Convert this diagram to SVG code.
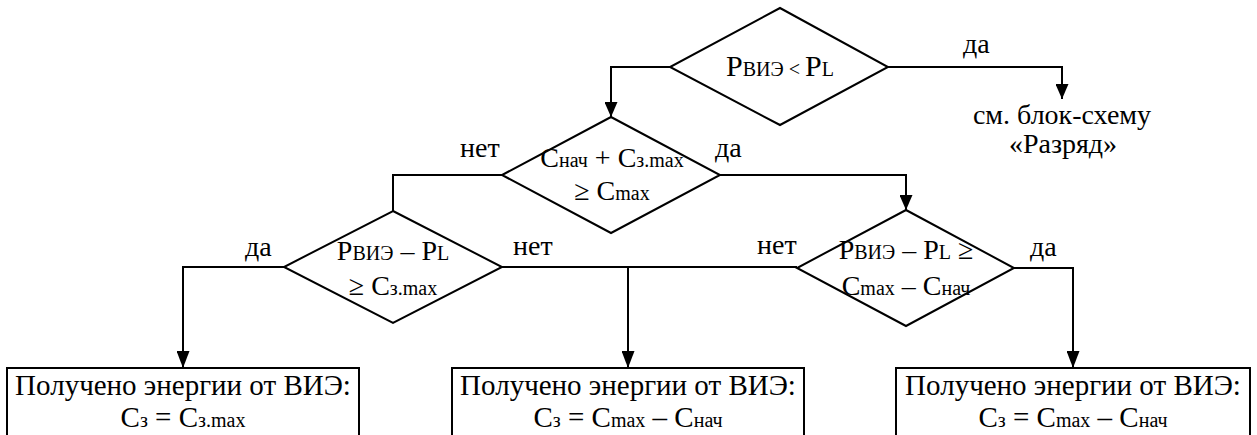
<svg xmlns="http://www.w3.org/2000/svg" width="1257" height="435" viewBox="0 0 1257 435">
  <style>
    .shape { fill: #ffffff; stroke: #000000; stroke-width: 2; }
    .wire { fill: none; stroke: #000000; stroke-width: 2; }
    text { font-family: "Liberation Serif", "Times New Roman", serif; fill: #000000; font-size: 28px; }
    .c { text-anchor: middle; }
    .s { font-size: 20px; }
    .big { font-size: 30px; }
    .box { font-size: 29px; }
  </style>
  <defs>
    <marker id="arrow" markerUnits="userSpaceOnUse" markerWidth="15" markerHeight="13" refX="15" refY="6.5" orient="auto">
      <path d="M0,0 L15,6.5 L0,13 z" fill="#000000"/>
    </marker>
    <marker id="arrow-long" markerUnits="userSpaceOnUse" markerWidth="17" markerHeight="13" refX="17" refY="6.5" orient="auto">
      <path d="M0,0 L17,6.5 L0,13 z" fill="#000000"/>
    </marker>
  </defs>

  <!-- connectors and branch labels -->
  <g id="connectors">
    <path class="wire" d="M888,67 H1062 V99" marker-end="url(#arrow)"/>
    <path class="wire" d="M670,67 H611 V117" marker-end="url(#arrow)"/>
    <path class="wire" d="M502,175 H393 V211"/>
    <path class="wire" d="M720,175 H906 V210" marker-end="url(#arrow)"/>
    <path class="wire" d="M284,267 H183 V368" marker-end="url(#arrow-long)"/>
    <path class="wire" d="M502,267 H797"/>
    <path class="wire" d="M628,267 V368" marker-end="url(#arrow-long)"/>
    <path class="wire" d="M1014,268 H1073 V368" marker-end="url(#arrow-long)"/>
    <text x="963" y="53">да</text>
    <text x="460" y="157">нет</text>
    <text x="715" y="157">да</text>
    <text x="245" y="256">да</text>
    <text x="513" y="255">нет</text>
    <text x="757" y="254">нет</text>
    <text x="1030" y="256">да</text>
  </g>

  <!-- decision: P_VIE < P_L -->
  <g id="d1">
    <polygon class="shape" points="780,8 888,67 780,125 670,67"/>
    <text class="c big" x="780" y="76">P<tspan class="s">ВИЭ</tspan><tspan class="s"> &lt; </tspan>P<tspan class="s">L</tspan></text>
  </g>

  <!-- reference to the discharge scheme -->
  <g id="discharge">
    <text class="c" x="1062" y="124">см. блок-схему</text>
    <text class="c" x="1063" y="153">«Разряд»</text>
  </g>

  <!-- decision: C_nach + C_z.max >= C_max -->
  <g id="d2">
    <polygon class="shape" points="611,117 720,175 611,233 502,175"/>
    <text class="c" x="612" y="167">C<tspan class="s">нач</tspan> + C<tspan class="s">з.max</tspan></text>
    <text class="c" x="612" y="200">≥ C<tspan class="s">max</tspan></text>
  </g>

  <!-- decision: P_VIE - P_L >= C_z.max -->
  <g id="d3">
    <polygon class="shape" points="393,211 502,267 393,323 284,267"/>
    <text class="c" x="393" y="260">P<tspan class="s">ВИЭ</tspan> – P<tspan class="s">L</tspan></text>
    <text class="c" x="393" y="295">≥ C<tspan class="s">з.max</tspan></text>
  </g>

  <!-- decision: P_VIE - P_L >= C_max - C_nach -->
  <g id="d4">
    <polygon class="shape" points="906,210 1014,268 906,326 797,268"/>
    <text class="c" x="906" y="259">P<tspan class="s">ВИЭ</tspan> – P<tspan class="s">L</tspan> ≥</text>
    <text class="c" x="906" y="295">C<tspan class="s">max</tspan> – C<tspan class="s">нач</tspan></text>
  </g>

  <!-- result boxes -->
  <g id="r1">
    <rect class="shape" x="7" y="368" width="352" height="80"/>
    <text class="c box" x="183" y="395">Получено энергии от ВИЭ:</text>
    <text class="c box" x="183" y="427">C<tspan class="s">з</tspan> = C<tspan class="s">з.max</tspan></text>
  </g>
  <g id="r2">
    <rect class="shape" x="452" y="368" width="352" height="80"/>
    <text class="c box" x="628" y="395">Получено энергии от ВИЭ:</text>
    <text class="c box" x="628" y="427">C<tspan class="s">з</tspan> = C<tspan class="s">max</tspan> – C<tspan class="s">нач</tspan></text>
  </g>
  <g id="r3">
    <rect class="shape" x="896" y="368" width="354" height="80"/>
    <text class="c box" x="1073" y="395">Получено энергии от ВИЭ:</text>
    <text class="c box" x="1073" y="427">C<tspan class="s">з</tspan> = C<tspan class="s">max</tspan> – C<tspan class="s">нач</tspan></text>
  </g>
</svg>
